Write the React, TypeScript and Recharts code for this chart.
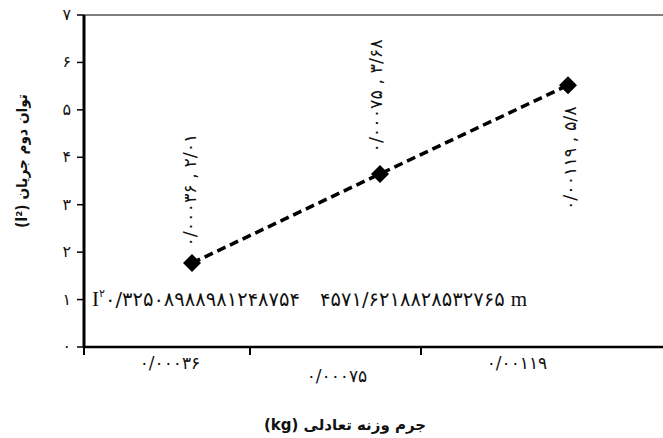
import React from 'react';
import { LineChart, Line, XAxis, YAxis, ReferenceLine, LabelList } from 'recharts';

const categories = ['۰/۰۰۰۳۶', '۰/۰۰۰۷۵', '۰/۰۰۱۱۹'];
const currentSquared = [1.77, 3.65, 5.52];
const pointLabels = ['۰/۰۰۰۳۶ , ۲/۰۱', '۰/۰۰۰۷۵ , ۳/۶۸', '۰/۰۰۱۱۹ , ۵/۸'];
const yTicks = [0, 1, 2, 3, 4, 5, 6, 7];
const yTickLabels = ['۰', '۱', '۲', '۳', '۴', '۵', '۶', '۷'];
const equationParts = ['I', '۲', '۰/۳۲۵۰۸۹۸۸۹۸۱۲۴۸۷۵۴', '۴۵۷۱/۶۲۱۸۸۲۸۵۳۲۷۶۵', 'm'];
const xTitle = 'جرم وزنه تعادلی (kg)';
const yTitle = 'توان دوم جریان (I²)';

const data = categories.map((c, i) => ({ mass: c, value: currentSquared[i], label: pointLabels[i] }));

const FONT = "'Liberation Serif', 'DejaVu Sans', serif";
const AR_FONT = "'DejaVu Sans', sans-serif";

const labelDx = [-22, -43, -51];
const labelDy = [22, 35, 22];
const tickMarkOffsets: number[][] = [[-108, 58], [41], []];

const XTick = (props: any) => {
  const { x, y, payload } = props;
  const i = categories.indexOf(payload.value);
  return (
    <g>
      {(tickMarkOffsets[i] || []).map((o, k) => (
        <line key={k} x1={x + o} x2={x + o} y1={y} y2={y + 8} stroke="#000" strokeWidth={2} />
      ))}
      <text x={x + labelDx[i]} y={y + labelDy[i]} textAnchor="middle" fontSize={17} fontFamily={AR_FONT} fill="#111">
        {payload.value}
      </text>
    </g>
  );
};

const YTick = (props: any) => {
  const { x, y, payload } = props;
  const i = yTicks.indexOf(payload.value);
  return (
    <text x={x} y={y} dy={5} textAnchor="end" fontSize={16} fontFamily={AR_FONT} fill="#111">
      {yTickLabels[i]}
    </text>
  );
};

const Diamond = (props: any) => {
  const { cx, cy } = props;
  if (cx == null || cy == null) return null;
  const r = 9;
  return <polygon points={`${cx},${cy - r} ${cx + r},${cy} ${cx},${cy + r} ${cx - r},${cy}`} fill="#000" />;
};

const ptDx = [-2, -4, 2];
const ptDy = [-73, -78, 73];

const PointLabel = (props: any) => {
  const { x, y, index, value } = props;
  const cx = x + ptDx[index];
  const cy = y + ptDy[index];
  return (
    <text
      x={cx}
      y={cy}
      textAnchor="middle"
      dominantBaseline="central"
      transform={`rotate(-90, ${cx}, ${cy})`}
      fontSize={17.5}
      fontFamily={AR_FONT}
      fill="#111"
    >
      {value}
    </text>
  );
};

const EquationLabel = (props: any) => {
  const { viewBox } = props;
  const x = viewBox.x + 8;
  const y = viewBox.y + 6;
  return (
    <text x={x} y={y} fontSize={19.5} fontFamily={FONT} fill="#111">
      <tspan fontSize={21}>{equationParts[0]}</tspan>
      <tspan fontSize={11} dy={-9} fontFamily={AR_FONT}>{equationParts[1]}</tspan>
      <tspan dy={9} fontFamily={AR_FONT} fontSize={19.5}>{equationParts[2]}</tspan>
      <tspan dx={20} fontFamily={AR_FONT} fontSize={19.5}>{equationParts[3]}</tspan>
      <tspan dx={6} fontSize={21}>{equationParts[4]}</tspan>
    </text>
  );
};

export default function App() {
  return (
    <div style={{ position: 'absolute', left: 0, top: 0, width: 663, height: 438, background: '#fff' }}>
      <LineChart width={663} height={438} data={data} margin={{ top: 15, right: 0, bottom: 0, left: 0 }}>
        <XAxis
          dataKey="mass"
          height={91}
          padding={{ left: 108, right: 95 }}
          axisLine={{ stroke: '#000', strokeWidth: 2.5 }}
          tickLine={false}
          tickSize={0}
          tickMargin={0}
          tick={<XTick />}
          interval={0}
        />
        <YAxis
          width={84}
          domain={[0, 7]}
          ticks={yTicks}
          type="number"
          axisLine={{ stroke: '#000', strokeWidth: 3 }}
          tickLine={{ stroke: '#000', strokeWidth: 1.5 }}
          tickSize={7}
          tickMargin={6}
          tick={<YTick />}
        />
        <ReferenceLine y={7} stroke="#000" strokeWidth={1} />
        <ReferenceLine y={1} stroke="none" label={<EquationLabel />} />
        <Line
          dataKey="value"
          stroke="#000"
          strokeWidth={3.5}
          strokeDasharray="9 5"
          dot={<Diamond />}
          activeDot={false}
          isAnimationActive={false}
        >
          <LabelList dataKey="label" content={<PointLabel />} />
        </Line>
      </LineChart>
      <svg width={663} height={438} style={{ position: 'absolute', left: 0, top: 0, pointerEvents: 'none' }}>
        <text
          x={22}
          y={161}
          transform="rotate(-90, 22, 161)"
          textAnchor="middle"
          dominantBaseline="central"
          direction="rtl"
          fontSize={15}
          fontWeight="bold"
          fontFamily={AR_FONT}
          fill="#111"
          textLength={134}
          lengthAdjust="spacingAndGlyphs"
        >
          {yTitle}
        </text>
        <text
          x={345}
          y={430}
          textAnchor="middle"
          direction="rtl"
          fontSize={15}
          fontWeight="bold"
          fontFamily={AR_FONT}
          fill="#111"
        >
          {xTitle}
        </text>
      </svg>
    </div>
  );
}
